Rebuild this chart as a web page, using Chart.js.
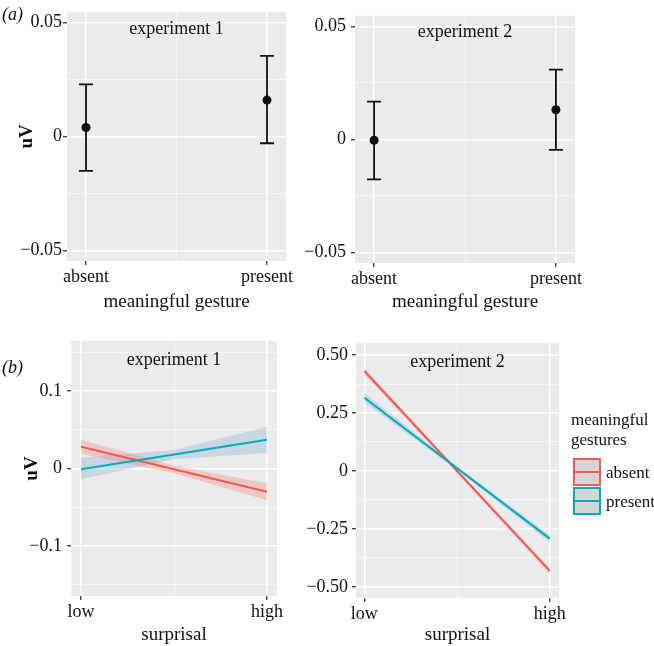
<!DOCTYPE html>
<html>
<head>
<meta charset="utf-8">
<script src="https://cdn.jsdelivr.net/npm/chart.js@4.4.1/dist/chart.umd.min.js"></script>
<style>
  body { margin: 0; background: #fff; width: 654px; height: 646px; position: relative; overflow: hidden;
         font-family: 'Liberation Serif', 'Times New Roman', serif; color: #111; }
  .pane { position: absolute; }
  .tag { position: absolute; font-style: italic; font-size: 18px; line-height: 20px; }
  .leg { position: absolute; font-size: 17px; line-height: 20px; }
  .key { position: absolute; width: 24px; height: 24px; background: #d6d6d6; border: 2px solid; }
  .key i { position: absolute; left: 0; right: 0; top: 11px; height: 2px; }
</style>
</head>
<body>
<div class="pane" style="left:0;top:0;width:300px;height:320px"><canvas id="a1"></canvas></div>
<div class="pane" style="left:300px;top:0;width:300px;height:320px"><canvas id="a2"></canvas></div>
<div class="pane" style="left:0;top:320px;width:300px;height:326px"><canvas id="b1"></canvas></div>
<div class="pane" style="left:300px;top:320px;width:354px;height:326px"><canvas id="b2"></canvas></div>
<div class="tag" style="left:2px;top:4px">(a)</div>
<div class="tag" style="left:2px;top:357px">(b)</div>
<div id="legend"></div>

<script>
const SERIF = "'Liberation Serif', 'Times New Roman', serif";
const INK = '#111';
const RED = '#F15A52';
const TEAL = '#00ADBD';

// (a) mean amplitude with 95% CI, by gesture condition
const gestureCats = ['absent', 'present'];
const exp1Mean = [0.0039, 0.0159];
const exp1Lower = [-0.0151, -0.0030];
const exp1Upper = [0.0228, 0.0353];
const exp2Mean = [-0.0004, 0.0131];
const exp2Lower = [-0.0177, -0.0046];
const exp2Upper = [0.0167, 0.0308];

// (b) fitted lines over surprisal, bands read at low / middle / high
const surprisalCats = ['low', 'high'];
const linePos = [0, 1];
const bandPos = [0, 0.5, 1];
const b1AbsentLine = [0.028, -0.030];
const b1AbsentLo = [0.019, -0.006, -0.041];
const b1AbsentHi = [0.037, 0.004, -0.019];
const b1PresentLine = [-0.001, 0.037];
const b1PresentLo = [-0.014, 0.012, 0.020];
const b1PresentHi = [0.014, 0.024, 0.054];
const b2AbsentLine = [0.431, -0.431];
const b2AbsentLo = [0.417, -0.008, -0.444];
const b2AbsentHi = [0.445, 0.008, -0.418];
const b2PresentLine = [0.316, -0.292];
const b2PresentLo = [0.296, 0.004, -0.307];
const b2PresentHi = [0.336, 0.020, -0.277];

// tick labels
const yTicksA = [-0.05, 0, 0.05];
const yLabelsA = ['\u22120.05', '0', '0.05'];
const yMinorA = [-0.025, 0.025];
const yTicksB1 = [-0.1, 0, 0.1];
const yLabelsB1 = ['\u22120.1', '0', '0.1'];
const yMinorB1 = [-0.15, -0.05, 0.05, 0.15];
const yTicksB2 = [-0.5, -0.25, 0, 0.25, 0.5];
const yLabelsB2 = ['\u22120.50', '\u22120.25', '0', '0.25', '0.50'];
const yMinorB2 = [-0.375, -0.125, 0.125, 0.375];
const legendLabels = ['absent', 'present'];
const legendColors = [RED, TEAL];

const pts = (xs, ys) => ys.map((y, i) => ({ x: xs[i], y: y }));

// grey panel background
const panelBg = {
  id: 'panelBg',
  beforeDraw(chart) {
    const { ctx, chartArea: a } = chart;
    ctx.save();
    ctx.fillStyle = '#EBEBEB';
    ctx.fillRect(a.left, a.top, a.right - a.left, a.bottom - a.top);
    ctx.restore();
  }
};

// error bars for panel (a)
const errorBars = {
  id: 'errorBars',
  beforeDatasetsDraw(chart, args, opts) {
    if (!opts.lower) return;
    const { ctx, scales: { x, y } } = chart;
    ctx.save();
    ctx.strokeStyle = '#111';
    ctx.lineWidth = 1.8;
    opts.lower.forEach((lo, i) => {
      const px = x.getPixelForValue(i);
      const y0 = y.getPixelForValue(lo), y1 = y.getPixelForValue(opts.upper[i]);
      ctx.beginPath();
      ctx.moveTo(px, y0); ctx.lineTo(px, y1);
      ctx.moveTo(px - 7, y0); ctx.lineTo(px + 7, y0);
      ctx.moveTo(px - 7, y1); ctx.lineTo(px + 7, y1);
      ctx.stroke();
    });
    ctx.restore();
  }
};

// "experiment n" label inside the panel
const panelTitle = {
  id: 'panelTitle',
  afterDraw(chart, args, opts) {
    const { ctx, chartArea: a } = chart;
    ctx.save();
    ctx.fillStyle = INK;
    ctx.font = '18px ' + SERIF;
    ctx.textAlign = 'center';
    ctx.textBaseline = 'middle';
    ctx.fillText(opts.text, (a.left + a.right) / 2, a.top + opts.dy);
    ctx.restore();
  }
};

const near = (a, b) => Math.abs(a - b) < 1e-9;

function panel(id, o) {
  const yAll = o.yTicks.concat(o.yMinor).sort((a, b) => a - b);
  const majY = v => o.yTicks.some(t => near(t, v));
  const majX = v => near(v, 0) || near(v, 1);
  return new Chart(document.getElementById(id), {
    type: 'line',
    data: { datasets: o.datasets },
    options: {
      responsive: true,
      maintainAspectRatio: false,
      animation: false,
      layout: { padding: o.pad },
      plugins: {
        legend: { display: false },
        tooltip: { enabled: false },
        panelTitle: { text: o.title, dy: o.titleDy },
        errorBars: o.err || {}
      },
      scales: {
        x: {
          type: 'linear', min: o.xMin, max: o.xMax,
          afterBuildTicks: s => { s.ticks = [0, 0.5, 1].map(v => ({ value: v })); },
          afterFit: s => { s.height = o.xHeight; },
          ticks: {
            autoSkip: false, maxRotation: 0, padding: 1, color: INK,
            font: { family: SERIF, size: 18 },
            callback: v => near(v, 0) ? o.xLabels[0] : near(v, 1) ? o.xLabels[1] : ''
          },
          grid: {
            color: '#fff',
            lineWidth: c => (c.tick && majX(c.tick.value)) ? 1.4 : 0.6,
            tickColor: c => (c.tick && majX(c.tick.value)) ? '#444' : 'rgba(0,0,0,0)',
            tickLength: 4
          },
          border: { display: false },
          title: { display: true, text: o.xTitle, color: INK, font: { family: SERIF, size: 19 },
                   padding: { top: 0, bottom: o.xTitlePad } }
        },
        y: {
          type: 'linear', min: o.yMin, max: o.yMax,
          afterBuildTicks: s => { s.ticks = yAll.map(v => ({ value: v })); },
          afterFit: s => { s.width = o.yWidth; },
          ticks: {
            autoSkip: false, padding: o.yTickPad, color: INK,
            font: { family: SERIF, size: 18 },
            callback: v => { const i = o.yTicks.findIndex(t => near(t, v)); return i < 0 ? '' : o.yLabels[i]; }
          },
          grid: {
            color: '#fff',
            lineWidth: c => (c.tick && majY(c.tick.value)) ? 1.4 : 0.6,
            tickColor: c => (c.tick && majY(c.tick.value)) ? '#444' : 'rgba(0,0,0,0)',
            tickLength: 4
          },
          border: { display: false },
          title: { display: !!o.yTitle, text: o.yTitle || '', color: INK,
                   font: { family: SERIF, size: 19, weight: 'bold' },
                   padding: { top: o.yTitlePad || 0, bottom: 0 } }
        }
      }
    },
    plugins: [panelBg, errorBars, panelTitle]
  });
}

function meanPoints(means) {
  return [{
    data: pts([0, 1], means), showLine: false,
    pointRadius: 4.5, pointBackgroundColor: '#111', pointBorderWidth: 0
  }];
}

function fitSets(absLine, absLo, absHi, presLine, presLo, presHi) {
  const band = (hi, lo, col) => [
    { data: pts(bandPos, hi), fill: '+1', backgroundColor: col, borderWidth: 0, borderColor: 'rgba(0,0,0,0)', pointRadius: 0, order: 2 },
    { data: pts(bandPos, lo), fill: false, borderWidth: 0, borderColor: 'rgba(0,0,0,0)', pointRadius: 0, order: 2 }
  ];
  return [
    ...band(absHi, absLo, 'rgba(248,118,109,0.30)'),
    ...band(presHi, presLo, 'rgba(100,150,200,0.25)'),
    { data: pts(linePos, absLine), borderColor: RED, borderWidth: 2, pointRadius: 0, fill: false, order: 1 },
    { data: pts(linePos, presLine), borderColor: TEAL, borderWidth: 2, pointRadius: 0, fill: false, order: 0 }
  ];
}

panel('a1', {
  datasets: meanPoints(exp1Mean), err: { lower: exp1Lower, upper: exp1Upper },
  title: 'experiment 1', titleDy: 17,
  pad: { left: 0, top: 7, right: 14, bottom: 0 }, yWidth: 67, xHeight: 59,
  xMin: -0.105, xMax: 1.105, xLabels: gestureCats, xTitle: 'meaningful gesture', xTitlePad: 7,
  yMin: -0.0546, yMax: 0.0546, yTicks: yTicksA, yLabels: yLabelsA, yMinor: yMinorA,
  yTickPad: 1, yTitle: 'uV', yTitlePad: 16
});

panel('a2', {
  datasets: meanPoints(exp2Mean), err: { lower: exp2Lower, upper: exp2Upper },
  title: 'experiment 2', titleDy: 16,
  pad: { left: 0, top: 7, right: 25, bottom: 0 }, yWidth: 55, xHeight: 57,
  xMin: -0.105, xMax: 1.105, xLabels: gestureCats, xTitle: 'meaningful gesture', xTitlePad: 7,
  yMin: -0.0546, yMax: 0.0546, yTicks: yTicksA, yLabels: yLabelsA, yMinor: yMinorA,
  yTickPad: 5
});

panel('b1', {
  datasets: fitSets(b1AbsentLine, b1AbsentLo, b1AbsentHi, b1PresentLine, b1PresentLo, b1PresentHi),
  title: 'experiment 1', titleDy: 19,
  pad: { left: 0, top: 21, right: 23, bottom: 0 }, yWidth: 71, xHeight: 50,
  xMin: -0.054, xMax: 1.054, xLabels: surprisalCats, xTitle: 'surprisal', xTitlePad: 0,
  yMin: -0.1645, yMax: 0.1645, yTicks: yTicksB1, yLabels: yLabelsB1, yMinor: yMinorB1,
  yTickPad: 5, yTitle: 'uV', yTitlePad: 21
});

panel('b2', {
  datasets: fitSets(b2AbsentLine, b2AbsentLo, b2AbsentHi, b2PresentLine, b2PresentLo, b2PresentHi),
  title: 'experiment 2', titleDy: 19,
  pad: { left: 0, top: 23, right: 95, bottom: 0 }, yWidth: 56, xHeight: 48,
  xMin: -0.045, xMax: 1.05, xLabels: surprisalCats, xTitle: 'surprisal', xTitlePad: 0,
  yMin: -0.548, yMax: 0.552, yTicks: yTicksB2, yLabels: yLabelsB2, yMinor: yMinorB2,
  yTickPad: 4
});

// legend for panel (b)
const leg = document.getElementById('legend');
let html = '<div class="leg" style="left:571px;top:410px">meaningful<br>gestures</div>';
legendLabels.forEach((lab, i) => {
  const top = 458 + i * 29;
  html += '<div class="key" style="left:573px;top:' + top + 'px;border-color:' + legendColors[i] + '">' +
          '<i style="background:' + legendColors[i] + '"></i></div>' +
          '<div class="leg" style="left:606px;top:' + (top + 5) + 'px">' + lab + '</div>';
});
leg.innerHTML = html;
</script>
</body>
</html>
